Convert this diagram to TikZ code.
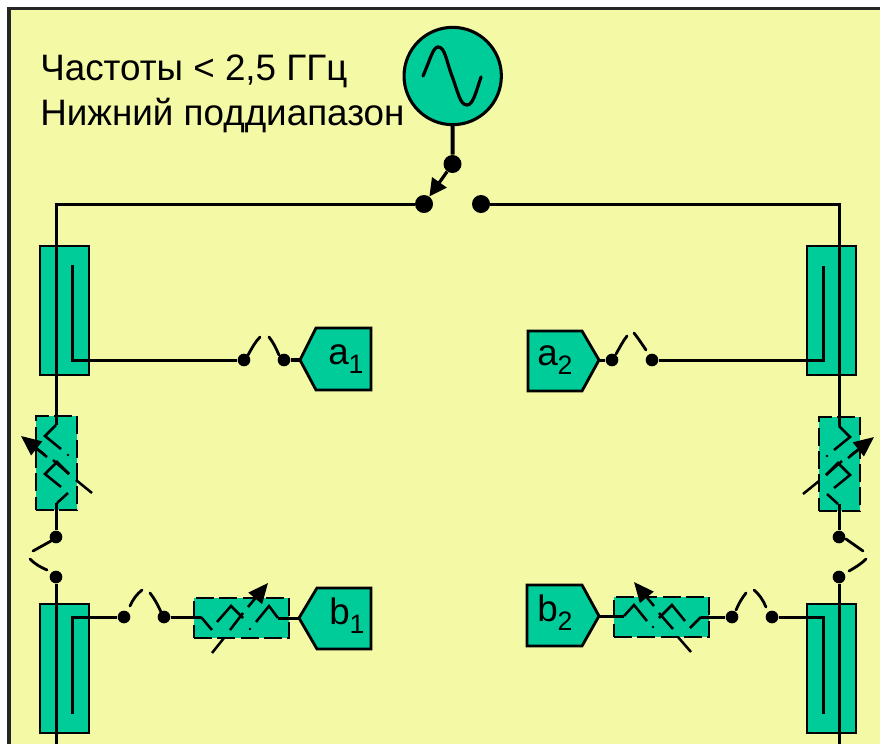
\documentclass[tikz,border=0pt]{standalone}
\usepackage{fontspec}
\setmainfont{Liberation Sans}
\usetikzlibrary{arrows.meta}
\definecolor{bgyellow}{HTML}{F4F9A5}
\definecolor{elgreen}{HTML}{00CC99}
\newcommand{\vattsegs}{%
  \draw[attwire] (56,425) -- (45,436) -- (61,449);
  \draw[attwire] (69,474) -- (57,462) -- (45,474) -- (61,487);
  \draw[attwire] (68,493) -- (57,503);
  \draw[attwire] (92,493) -- (76,480);
  \draw[attwire] (69,474) -- (53,460);
  \draw[attwire] (47,457) -- (37,449);
  \draw[attwire,-{Triangle[length=15pt,width=13pt]}] (45,455) -- (21,436);
  \fill (68,455) circle (1.4);
}
\tikzset{
  x=0.75pt,y=-0.75pt,
  wire/.style={line width=2.25pt,line cap=butt},
  attwire/.style={line width=1.9pt,line cap=butt},
  thickwire/.style={line width=3pt},
  contact/.style={line width=2.1pt,line cap=round},
  jdot/.style={circle,fill=black,inner sep=0pt,minimum size=13.5pt},
  smalldot/.style={circle,fill=black,inner sep=0pt,minimum size=9.5pt},
  coupler/.style={draw=black,fill=elgreen,line width=1.9pt,inner sep=0pt,minimum width=36.75pt,minimum height=96.75pt},
  attbox/.style={draw=black,fill=elgreen,line width=2pt,inner sep=0pt,dash pattern=on 13.5pt off 4pt},
  port/.style={draw=black,fill=elgreen,line width=2.1pt,line join=miter},
  lbl/.style={anchor=base west,inner sep=0pt,font=\fontsize{27.6pt}{30pt}\selectfont},
}
\newcommand{\sub}[1]{\raisebox{-7pt}{\fontsize{20pt}{22pt}\selectfont #1}}
\begin{document}
\begin{tikzpicture}
\useasboundingbox (0,0) rectangle (880,744);
\fill[white] (0,0) rectangle (880,744);
\fill[bgyellow] (9,8) rectangle (880,744);
\draw[line width=2.4pt,black!85] (9,744) -- (9,8.5) -- (880,8.5);

% text
\node[lbl] (t1) at (40,80) {Частоты < 2,5 ГГц};
\node[lbl] (t2) at (40,125) {Нижний поддиапазон};

% coordinates
\coordinate (cL) at (56,204);
\coordinate (cR) at (839,204);
\coordinate (zL) at (56,425);
\coordinate (zLo) at (56,503);
\coordinate (zR) at (839,426);
\coordinate (zRo) at (839,504);
\coordinate (botL) at (56,744);
\coordinate (botR) at (839,744);

% coupler boxes
\node[coupler] (cp1) at (64.5,310.5) {};
\node[coupler] (cp2) at (831.5,310.5) {};
\node[coupler] (cp3) at (64.5,668.5) {};
\node[coupler] (cp4) at (831.5,668.5) {};

% attenuator boxes
\node[attbox,minimum width=30.75pt,minimum height=70.5pt] (at1) at (56.5,463) {};
\node[attbox,minimum width=30.75pt,minimum height=70.5pt] (at2) at (839.5,464) {};
\node[attbox,minimum width=71.25pt,minimum height=30pt] (at3) at (241.5,618) {};
\node[attbox,minimum width=71.25pt,minimum height=30pt] (at4) at (661.5,617) {};

% source
\node[circle,draw=black,fill=elgreen,line width=2.3pt,inner sep=0pt,minimum size=73pt] (src) at (452.7,76) {};
\draw[line width=2.4pt,line cap=round] (423,76) .. controls (430,60) and (433,47) .. (438,47)
  .. controls (445,47) and (446,60) .. (452,76) .. controls (458,92) and (460,105) .. (467,105)
  .. controls (473,105) and (476,92) .. (481,77);

% junction dots
\node[jdot] (s0) at (452.5,164) {};
\node[jdot] (swL) at (424,204) {};
\node[jdot] (swR) at (481,204) {};
\node[smalldot] (d1) at (244,360) {};
\node[smalldot] (d2) at (284,360) {};
\node[smalldot] (d3) at (612,360) {};
\node[smalldot] (d4) at (652,360) {};
\node[smalldot] (d5) at (56,537) {};
\node[smalldot] (d6) at (56,577) {};
\node[smalldot] (d7) at (839,537) {};
\node[smalldot] (d8) at (839,577) {};
\node[smalldot] (d9) at (124,617) {};
\node[smalldot] (d10) at (164,617) {};
\node[smalldot] (d11) at (732,617) {};
\node[smalldot] (d12) at (772,617) {};

% ports
\draw[port] (300,360) -- (316,328) -- (371,328) -- (371,390) -- (316,390) -- cycle;
\coordinate (pa1) at (300,360);
\draw[port] (528,331) -- (582,331) -- (599,360) -- (582,391) -- (528,391) -- cycle;
\coordinate (pa2) at (599,360);
\draw[port] (299,618) -- (317,588) -- (371,588) -- (371,649) -- (317,649) -- cycle;
\coordinate (pb1) at (299,618);
\draw[port] (527,585) -- (582,585) -- (599,616) -- (582,646) -- (527,646) -- cycle;
\coordinate (pb2) at (599,616);
\node[lbl] (a1) at (328,364) {a\sub{1}};
\node[lbl] (a2) at (537,365) {a\sub{2}};
\node[lbl] (b1) at (329,624) {b\sub{1}};
\node[lbl] (b2) at (537,621) {b\sub{2}};

% source connections
\draw[thickwire] (src) -- (s0);
\draw[line width=2.4pt,-{Triangle[length=13pt,width=13pt]}] (s0) -- (swL);
\draw[wire] (swL) -- (cL) -- (zL);
\draw[wire] (swR) -- (cR) -- (zR);
\draw[wire] (zLo) -- (d5);
\draw[wire] (zRo) -- (d7);
\draw[wire] (d6) -- (botL);
\draw[wire] (d8) -- (botR);

% coupled arms, top
\draw[wire] (72,265) -- (72,360) -- (d1);
\draw[wire] (823,266) -- (823,360) -- (d4);
\draw[thickwire] (d2) -- (pa1);
\draw[wire] (d3) -- (pa2);
% coupled arms, bottom
\draw[wire] (72,714) -- (72,617) -- (d9);
\draw[wire] (823,714) -- (823,617) -- (d12);

% vertical attenuators
\vattsegs
\begin{scope}[cm={-1,0,0,1,(671.25pt,-0.75pt)}]
\vattsegs
\end{scope}

% horizontal attenuator b1
\draw[wire] (d10) -- (201,617);
\draw[attwire] (201,617) -- (212,630);
\draw[attwire] (217,622) -- (231,606) -- (243,618);
\draw[attwire] (256,622) -- (269,606) -- (278,618);
\draw[wire] (278,618) -- (pb1);
\draw[attwire] (212,653) -- (224,638);
\draw[attwire] (230,630) -- (243,613);
\draw[attwire,-{Triangle[length=15pt,width=13pt]}] (248,607) -- (268,583);
\fill (250,629) circle (1.4);

% horizontal attenuator b2
\draw[wire] (pb2) -- (624,616);
\draw[attwire] (624,616) -- (634,605) -- (647,621);
\draw[attwire] (659,618) -- (672,605) -- (685,621);
\draw[attwire] (690,628) -- (701,617);
\draw[wire] (701,617) -- (d11);
\draw[attwire,-{Triangle[length=15pt,width=13pt]}] (654,606) -- (634,582);
\draw[attwire] (673,629) -- (659,613);
\draw[attwire] (678,637) -- (691,652);
\fill (653,627) circle (1.4);

% open contacts
\draw[contact] (248,355) .. controls (252,348) and (255,342) .. (260,337);
\draw[contact] (269,337) .. controls (273,342) and (276,348) .. (279,355);
\draw[contact] (616,354) .. controls (620,347) and (623,341) .. (627,336);
\draw[contact] (634,333) .. controls (638,338) and (642,344) .. (646,350);
\draw[contact] (51,541) -- (33,551);
\draw[contact] (30,559) .. controls (35,564) and (40,567) .. (47,570);
\draw[contact] (846,539) -- (863,551);
\draw[contact] (866,559) .. controls (861,564) and (856,567) .. (849,571);
\draw[contact] (130,606) .. controls (133,599) and (137,594) .. (142,590);
\draw[contact] (150,593) .. controls (154,598) and (158,605) .. (161,612);
\draw[contact] (736,610) .. controls (739,603) and (742,598) .. (746,593);
\draw[contact] (754,590) .. controls (759,594) and (763,600) .. (766,607);
\end{tikzpicture}
\end{document}
